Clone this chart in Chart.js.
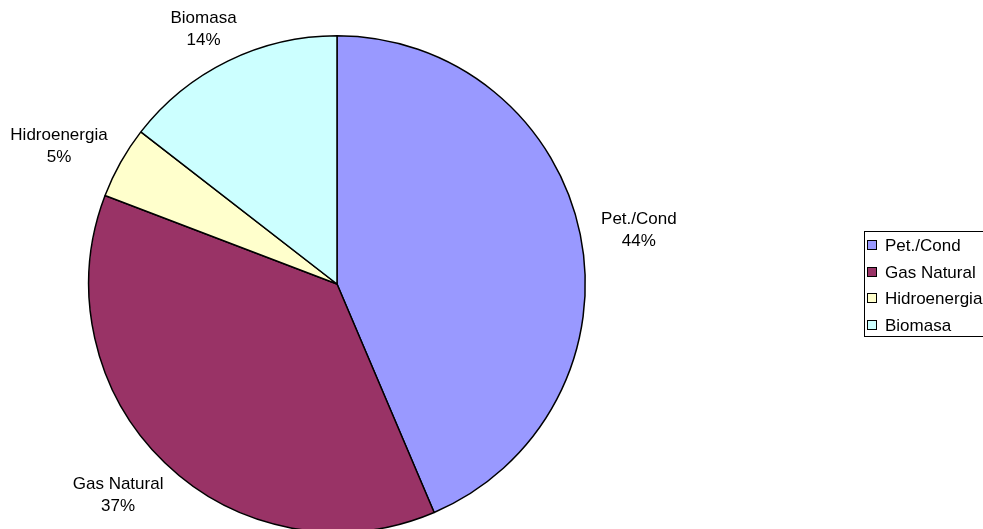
<!DOCTYPE html>
<html>
<head>
<meta charset="utf-8">
<script src="https://cdn.jsdelivr.net/npm/chart.js@4/dist/chart.umd.min.js"></script>
<style>
  html, body { margin: 0; padding: 0; background: #fff; overflow: hidden; }
  #wrap { width: 983px; height: 540px; }
</style>
</head>
<body>
<div id="wrap"><canvas id="myChart"></canvas></div>
<script>
const categories = ['Pet./Cond', 'Gas Natural', 'Hidroenergia', 'Biomasa'];
const shares = [43.6, 37.2, 4.7, 14.5];
const sliceColors = ['#9999FF', '#993366', '#FFFFCC', '#CCFFFF'];

const FONT = '"Liberation Sans", Arial, sans-serif';

// etiquetas fuera de cada porción (nombre + %)
const outsideLabels = {
  id: 'outsideLabels',
  afterDraw: (chart) => {
    const { ctx, data } = chart;
    const meta = chart.getDatasetMeta(0);
    const total = data.datasets[0].data.reduce((a, b) => a + b, 0);
    ctx.save();
    ctx.font = '17px ' + FONT;
    ctx.fillStyle = '#000';
    ctx.textAlign = 'center';
    ctx.textBaseline = 'middle';
    meta.data.forEach((arc, i) => {
      const mid = (arc.startAngle + arc.endAngle) / 2;
      const name = data.labels[i];
      const pct = Math.round(data.datasets[0].data[i] / total * 100) + '%';
      const w = ctx.measureText(name).width;
      const r = arc.outerRadius + 22;
      const tx = arc.x + Math.cos(mid) * (r + w / 2);
      const ty = arc.y + Math.sin(mid) * (arc.outerRadius + 40) + 4;
      ctx.fillText(name, tx, ty - 11);
      ctx.fillText(pct, tx, ty + 11);
    });
    ctx.restore();
  }
};

// leyenda estilo Excel a la derecha
const boxLegend = {
  id: 'boxLegend',
  afterDraw: (chart) => {
    const { ctx, data } = chart;
    const left = 864, top = 231, bottom = 336;
    ctx.save();
    ctx.strokeStyle = '#000';
    ctx.lineWidth = 1;
    ctx.strokeRect(left + 0.5, top + 0.5, 200, bottom - top);
    ctx.font = '17px ' + FONT;
    ctx.textBaseline = 'middle';
    data.labels.forEach((lab, i) => {
      const y = Math.round(245 + i * 26.7);
      ctx.fillStyle = sliceColors[i];
      ctx.fillRect(left + 3, y - 5, 10, 10);
      ctx.strokeRect(left + 3.5, y - 4.5, 9, 9);
      ctx.fillStyle = '#000';
      ctx.fillText(lab, left + 21, y + 1);
    });
    ctx.restore();
  }
};

new Chart(document.getElementById('myChart'), {
  type: 'pie',
  data: {
    labels: categories,
    datasets: [{
      data: shares,
      backgroundColor: sliceColors,
      borderColor: '#000',
      borderWidth: 1.5
    }]
  },
  options: {
    responsive: true,
    maintainAspectRatio: false,
    animation: false,
    layout: { padding: { left: 88, right: 397, top: 35, bottom: 7 } },
    plugins: {
      legend: { display: false },
      tooltip: { enabled: false }
    }
  },
  plugins: [outsideLabels, boxLegend]
});
</script>
</body>
</html>
